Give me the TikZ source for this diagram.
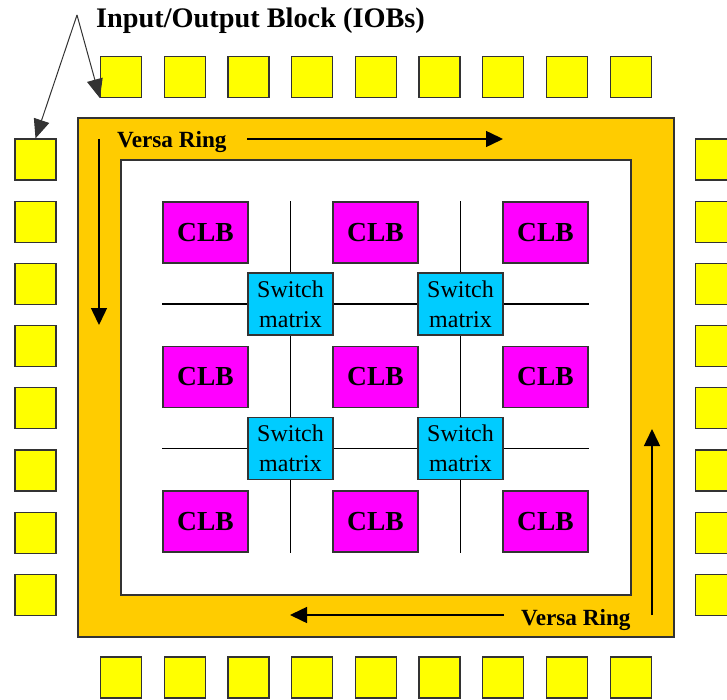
\documentclass[tikz,border=0pt]{standalone}
\usepackage{fontspec}
\setmainfont{Liberation Serif}
\usetikzlibrary{arrows.meta,backgrounds}
\definecolor{iobfill}{HTML}{FFFF00}
\definecolor{ringfill}{HTML}{FFCC00}
\definecolor{clbfill}{HTML}{FF00FF}
\definecolor{swfill}{HTML}{00CCFF}
\definecolor{edge}{HTML}{333333}
\tikzset{
  iob/.style={draw=edge,line width=1.2pt,fill=iobfill,minimum size=41pt,inner sep=0pt},
  clb/.style={draw=edge,line width=1.2pt,fill=clbfill,minimum width=85pt,minimum height=61pt,inner sep=0pt,
    font=\fontsize{27.5}{30}\selectfont\bfseries},
  switchbox/.style={draw=edge,line width=1.2pt,fill=swfill,minimum width=85pt,minimum height=62pt,inner sep=0pt,
    align=center,font=\fontsize{24}{30}\selectfont},
  ringarrow/.style={line width=1.5pt,-{Triangle[length=17pt,width=16pt]}},
  ringlabel/.style={font=\fontsize{23.2}{25}\selectfont\bfseries,inner sep=0pt,anchor=base west},
  titlearrow/.style={draw=edge,line width=1pt,-{Triangle[length=19pt,width=16pt]}}
}

\begin{document}
\begin{tikzpicture}[x=1pt,y=-1pt]
\clip (0,0) rectangle (727,700);
% IOBs round the chip
\foreach \i in {1,...,9} {
  \node[iob] (top\i) at ({121+63.7*(\i-1)},77) {};
  \node[iob] (bot\i) at ({121+63.7*(\i-1)},677.5) {};
}
\foreach \i in {1,...,8} {
  \node[iob] (left\i) at (35.5,{159.5+62.2*(\i-1)}) {};
  \node[iob] (right\i) at (716,{159.5+62.2*(\i-1)}) {};
}
% logic blocks and switches
\foreach \r/\y in {1/232.5,2/377,3/521.5}
  \foreach \c/\x in {1/205.5,2/375.5,3/545.5}
    \node[clb] (clb\r\c) at (\x,\y) {CLB};
\foreach \r/\y in {1/304,2/448.5}
  \foreach \c/\x in {1/290.5,2/460.5}
    \node[switchbox] (sw\r\c) at (\x,\y) {Switch\\matrix};
\begin{scope}[on background layer]
  \draw[draw=edge,line width=1.2pt,fill=ringfill] (78,118) rectangle (674,637);
  \draw[draw=edge,line width=1.2pt,fill=white] (121,160) rectangle (631,595);
  \foreach \c in {1,2}
    \draw[line width=1.2pt] (sw1\c |- clb11.north) -- (sw1\c |- clb31.south);
  \foreach \r in {1,2}
    \draw[line width=1.2pt] (clb11.west |- sw\r1) -- (clb13.east |- sw\r1);
\end{scope}
% versa ring
\node[ringlabel] (ringtop) at (117,148) {Versa Ring};
\node[ringlabel] (ringbot) at (521,625) {Versa Ring};
\coordinate (ta) at (247,139); \coordinate (tb) at (503,139);
\coordinate (la) at (99,139);  \coordinate (lb) at (99,325);
\coordinate (ra) at (652,615); \coordinate (rb) at (652,429);
\coordinate (ba) at (504,615); \coordinate (bb) at (290,615);
\draw[ringarrow] (ta) -- (tb);
\draw[ringarrow] (la) -- (lb);
\draw[ringarrow] (ra) -- (rb);
\draw[ringarrow] (ba) -- (bb);
% title
\node[anchor=base west,inner sep=0pt,font=\fontsize{28.3}{30}\selectfont\bfseries] (ioblabel) at (96,28)
  {Input/Output Block (IOBs)};
\coordinate (apex) at (77,15);
\draw[titlearrow] (apex) -- (top1.south west);
\draw[titlearrow] (apex) -- (left1.north);
\end{tikzpicture}
\end{document}
